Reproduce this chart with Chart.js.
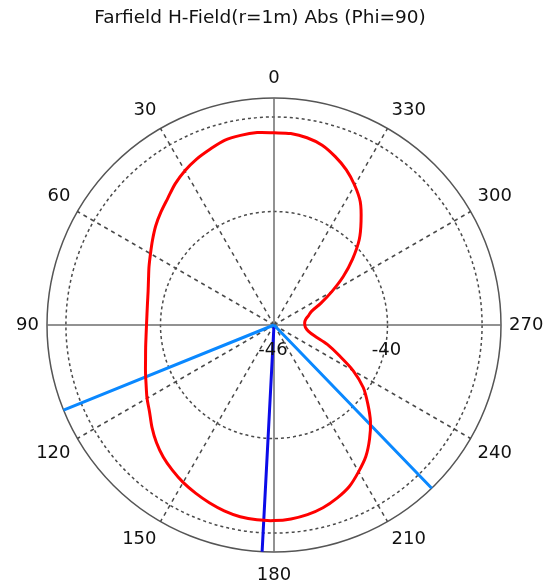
<!DOCTYPE html>
<html>
<head>
<meta charset="utf-8">
<script src="https://cdn.jsdelivr.net/npm/chart.js@4.4.1/dist/chart.umd.min.js"></script>
<style>
  html, body { margin: 0; padding: 0; background: #ffffff; }
  canvas { display: block; }
</style>
</head>
<body>
<canvas id="farfield" width="551" height="588"></canvas>
<script>
// Farfield H-field pattern, Phi = 90 cut.
// Theta is in degrees, counted counter-clockwise from the top of the plot.
const TITLE = 'Farfield H-Field(r=1m) Abs (Phi=90)';

const patternTheta = [
  0, 5, 10, 15, 20, 25, 30, 35, 40, 45, 50, 55,
  60, 65, 70, 75, 80, 85, 90, 95, 100, 105, 110, 115,
  120, 125, 130, 135, 140, 145, 150, 155, 160, 165, 170, 175,
  180, 185, 190, 195, 200, 205, 210, 215, 220, 225, 230, 235,
  240, 245, 250, 255, 260, 265, 270, 275, 280, 285, 290, 295,
  300, 305, 310, 315, 320, 325, 330, 335, 340, 345, 350, 355
];
const patternDb = [
  -35.84, -35.79, -35.82, -35.89, -36.11, -36.32, -36.58, -36.89, -37.26, -37.55, -37.84, -38.16,
  -38.46, -38.71, -38.94, -39.11, -39.21, -39.26, -39.26, -39.21, -39.11, -38.97, -38.77, -38.54,
  -38.25, -37.97, -37.58, -37.21, -36.89, -36.63, -36.39, -36.19, -36.00, -35.83, -35.71, -35.66,
  -35.66, -35.71, -35.82, -36.00, -36.26, -36.58, -37.05, -37.53, -38.14, -38.79, -39.53, -40.24,
  -41.16, -42.21, -43.00, -43.79, -44.16, -44.32, -44.37, -44.37, -44.30, -44.12, -43.89, -43.26,
  -42.47, -41.53, -40.58, -39.63, -38.84, -38.05, -37.47, -36.95, -36.53, -36.16, -35.95, -35.84
];

// Main lobe direction and the two 3 dB beam-width edges
const mainLobeTheta = 177;
const beamEdgeTheta = [112, 224];

// Radial axis (dB)
const rMin = -46;
const rMax = -34;
const gridDb = [-46, -40, -35, -34];
const tickLabelDb = [-46, -40];
const tickLabelTheta = 270;

const FONT = 'DejaVu Sans';

// One radar spoke per degree; Chart.js runs clockwise, the plot runs counter-clockwise.
const STEPS = 360;
const indexOfTheta = t => ((STEPS - Math.round(t)) % STEPS + STEPS) % STEPS;
const thetaLabels = [];
for (let i = 0; i < STEPS; i++) thetaLabels.push((STEPS - i) % STEPS);

function seriesFrom(thetas, values) {
  const out = new Array(STEPS).fill(null);
  thetas.forEach((t, k) => { out[indexOfTheta(t)] = values[k]; });
  return out;
}
// radial line from the centre out to the outer ring
function spoke(theta) {
  const out = new Array(STEPS).fill(null);
  out[indexOfTheta(theta)] = rMax;
  out[indexOfTheta(theta - 1)] = rMin;
  return out;
}

const isMajor = i => i % 30 === 0;
const isAxis = i => i % 90 === 0;

// heading text, set slightly left of the plot centre
const headingPlugin = {
  id: 'heading',
  afterDraw(chart) {
    const ctx = chart.ctx;
    ctx.save();
    ctx.font = '18.5px "' + FONT + '"';
    ctx.fillStyle = '#111111';
    ctx.textAlign = 'center';
    ctx.textBaseline = 'middle';
    ctx.fillText(TITLE, 260, 18);
    ctx.restore();
  }
};

// dB values written beside the horizontal axis
const tickLabelPlugin = {
  id: 'radialTickLabels',
  afterDatasetsDraw(chart) {
    const s = chart.scales.r;
    const ctx = chart.ctx;
    ctx.save();
    ctx.font = '18px "' + FONT + '"';
    ctx.fillStyle = '#111111';
    ctx.textAlign = 'center';
    ctx.textBaseline = 'middle';
    tickLabelDb.forEach(v => {
      const p = s.getPointPositionForValue(indexOfTheta(tickLabelTheta), v);
      ctx.fillText(String(v), p.x - 1, p.y + 25);
    });
    ctx.restore();
  }
};

new Chart(document.getElementById('farfield'), {
  type: 'radar',
  data: {
    labels: thetaLabels,
    datasets: [
      {
        data: seriesFrom(patternTheta, patternDb),
        borderColor: '#ff0000',
        borderWidth: 3,
        tension: 0.3,
        spanGaps: true,
        fill: false
      },
      {
        data: spoke(beamEdgeTheta[0]),
        borderColor: '#0a88ff',
        borderWidth: 3,
        spanGaps: true,
        fill: false
      },
      {
        data: spoke(beamEdgeTheta[1]),
        borderColor: '#0a88ff',
        borderWidth: 3,
        spanGaps: true,
        fill: false
      },
      {
        data: spoke(mainLobeTheta),
        borderColor: '#0c0ce8',
        borderWidth: 3,
        spanGaps: true,
        fill: false
      }
    ]
  },
  options: {
    responsive: false,
    animation: false,
    events: [],
    devicePixelRatio: 1,
    layout: { padding: { left: 10, right: 0, top: 66, bottom: 0 } },
    elements: { point: { radius: 0, hoverRadius: 0 } },
    plugins: {
      legend: { display: false },
      tooltip: { enabled: false },
      title: { display: false }
    },
    scales: {
      r: {
        min: rMin,
        max: rMax,
        afterBuildTicks: s => { s.ticks = gridDb.map(v => ({ value: v })); },
        ticks: { display: false },
        grid: {
          circular: true,
          color: c => (c.tick && c.tick.value === rMax) ? '#555555' : '#4a4a4a',
          lineWidth: 1.5
        },
        border: {
          dash: c => (c.tick && c.tick.value === rMax) ? [] : [3, 3]
        },
        angleLines: {
          color: c => isAxis(c.index) ? '#6e6e6e' : (isMajor(c.index) ? '#4a4a4a' : 'rgba(0,0,0,0)'),
          lineWidth: c => isMajor(c.index) ? 1.5 : 0,
          borderDash: c => isAxis(c.index) ? [] : [4, 4]
        },
        pointLabels: {
          color: '#111111',
          callback: (label, i) => isMajor(i) ? String(label) : '',
          font: c => ({ family: FONT, size: isMajor(c.index) ? 18 : 1 }),
          padding: c => c.index === 0 ? 8.5 : (c.index === 180 ? 12.4 : 8)
        }
      }
    }
  },
  plugins: [headingPlugin, tickLabelPlugin]
});
</script>
</body>
</html>
